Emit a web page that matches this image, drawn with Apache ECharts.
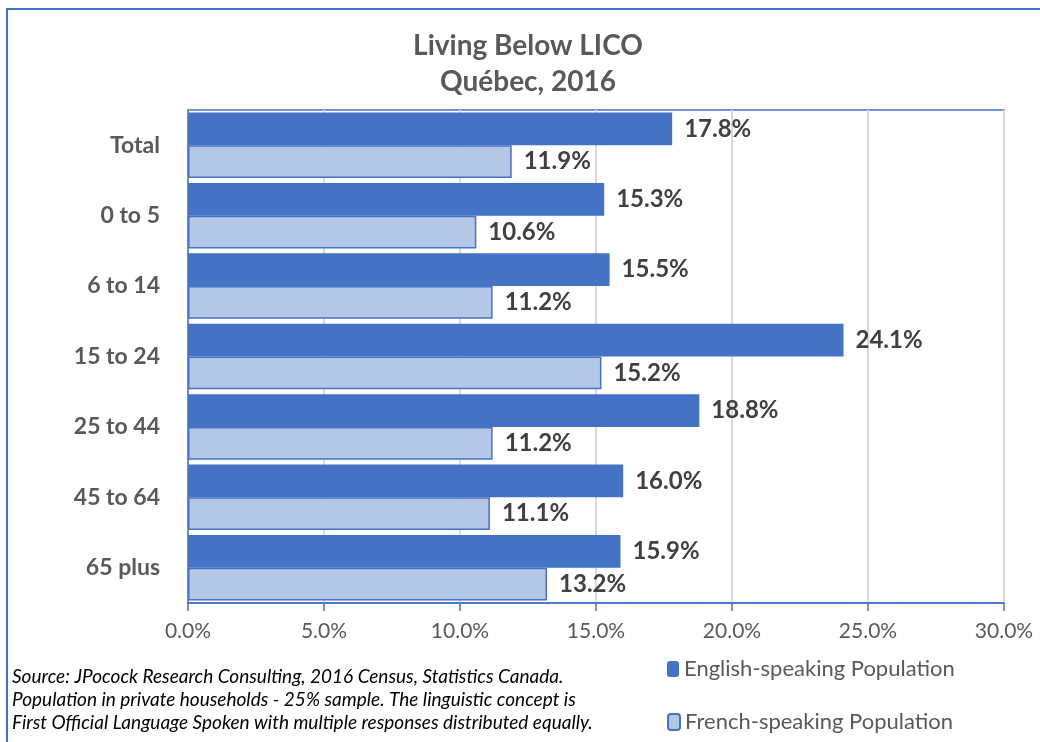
<!DOCTYPE html>
<html>
<head>
    <meta charset="utf-8">
    <script src="https://cdn.jsdelivr.net/npm/echarts@6/dist/echarts.min.js"></script>
    <style>
        html, body { margin: 0; padding: 0; background: #fff; }
    </style>
</head>
<body>
    <div id="main" style="width: 1040px;height:742px;"></div>
    <script type="text/javascript">
        var categories = ['Total', '0 to 5', '6 to 14', '15 to 24', '25 to 44', '45 to 64', '65 plus'];
        var english = [17.8, 15.3, 15.5, 24.1, 18.8, 16.0, 15.9];
        var french = [11.9, 10.6, 11.2, 15.2, 11.2, 11.1, 13.2];
        var seriesNames = ['English-speaking Population', 'French-speaking Population'];
        var sourceLines = [
            'Source: JPocock Research Consulting, 2016 Census, Statistics Canada.',
            'Population in private households - 25% sample. The linguistic concept is',
            'First Official Language Spoken with multiple responses distributed equally.'
        ];

        var font = 'Lato, "Open Sans", sans-serif';
        var pct = function (v) { return Number(v).toFixed(1) + '%'; };

        var myChart = echarts.init(document.getElementById('main'));

        var valueLabel = {
            show: true,
            position: 'right',
            distance: 12,
            fontFamily: font,
            fontSize: 24,
            fontWeight: 'bold',
            color: '#404040',
            formatter: function (p) { return pct(p.value); }
        };

        var legendText = { fontFamily: font, fontSize: 22, color: '#595959' };

        var option = {
            animation: false,
            textStyle: { fontFamily: font },
            title: {
                text: 'Living Below LICO\nQuébec, 2016',
                left: 523,
                textAlign: 'center',
                top: 23,
                textStyle: {
                    fontFamily: font,
                    fontSize: 28,
                    fontWeight: 'bold',
                    color: '#595959',
                    lineHeight: 36
                }
            },
            legend: [
                {
                    data: [seriesNames[0]],
                    left: 662,
                    top: 653,
                    itemWidth: 12,
                    itemHeight: 16,
                    textStyle: legendText
                },
                {
                    data: [seriesNames[1]],
                    left: 662,
                    top: 706,
                    itemWidth: 12,
                    itemHeight: 16,
                    textStyle: legendText
                }
            ],
            grid: {
                left: 188,
                right: 36,
                top: 110,
                bottom: 139,
                show: true,
                borderColor: '#4472C4',
                borderWidth: 1.5
            },
            xAxis: {
                type: 'value',
                min: 0,
                max: 30,
                interval: 5,
                axisLine: { show: true, lineStyle: { color: '#4472C4', width: 1.5 } },
                axisTick: { show: true, length: 8, lineStyle: { color: '#4472C4', width: 1.5 } },
                splitLine: { show: true, lineStyle: { color: '#D9D9D9', width: 2 } },
                axisLabel: {
                    margin: 18,
                    fontFamily: font,
                    fontSize: 21,
                    color: '#595959',
                    formatter: pct
                }
            },
            yAxis: {
                type: 'category',
                data: categories,
                inverse: true,
                axisLine: { show: true, lineStyle: { color: '#4472C4', width: 1.5 } },
                axisTick: { show: false },
                axisLabel: {
                    margin: 28,
                    fontFamily: font,
                    fontSize: 23,
                    fontWeight: 'bold',
                    color: '#595959'
                }
            },
            series: [
                {
                    name: seriesNames[0],
                    type: 'bar',
                    data: english,
                    barGap: '0%',
                    barCategoryGap: '7%',
                    itemStyle: { color: '#4472C4' },
                    label: valueLabel
                },
                {
                    name: seriesNames[1],
                    type: 'bar',
                    data: french,
                    itemStyle: { color: '#B4C7E7', borderColor: '#4472C4', borderWidth: 1.5 },
                    label: valueLabel
                }
            ],
            graphic: [
                {
                    type: 'rect',
                    shape: { x: 7, y: 9, width: 1100, height: 800 },
                    style: { fill: 'none', stroke: '#4472C4', lineWidth: 2 },
                    silent: true
                },
                {
                    type: 'text',
                    left: 12,
                    top: 665,
                    style: {
                        text: sourceLines.join('\n'),
                        fontFamily: font,
                        fontSize: 19,
                        fontStyle: 'italic',
                        lineHeight: 23,
                        fill: '#000'
                    }
                }
            ]
        };
        myChart.setOption(option);
    </script>
</body>
</html>
